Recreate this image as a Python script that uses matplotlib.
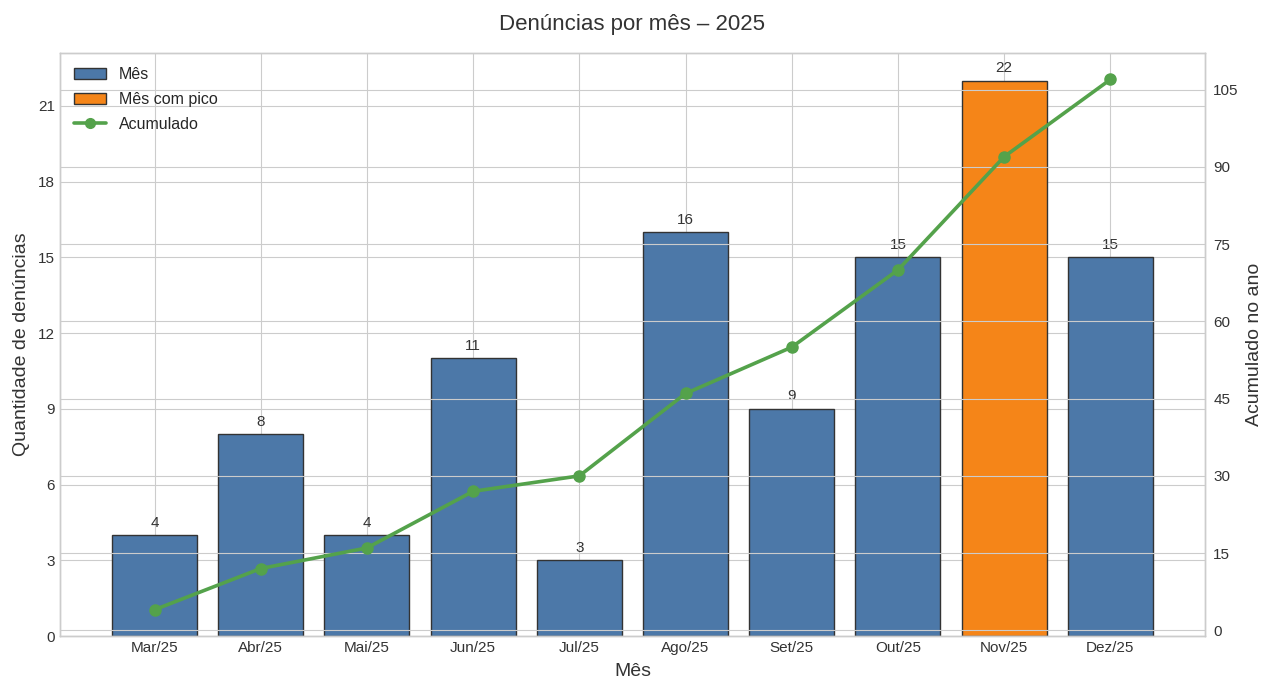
import matplotlib
matplotlib.use("Agg")
import matplotlib.pyplot as plt
import numpy as np
from matplotlib.patches import Patch
from matplotlib.lines import Line2D

meses = ["Mar/25", "Abr/25", "Mai/25", "Jun/25", "Jul/25", "Ago/25", "Set/25", "Out/25", "Nov/25", "Dez/25"]
denuncias = [4, 8, 4, 11, 3, 16, 9, 15, 22, 15]
acumulado = [4, 12, 16, 27, 30, 46, 55, 70, 92, 107]

plt.style.use("seaborn-v0_8-whitegrid")
plt.rcParams["font.family"] = ["Liberation Sans", "DejaVu Sans"]

azul = "#4C78A8"
laranja = "#F58518"
verde = "#54A24B"
txt = "#333333"

fig, ax = plt.subplots(figsize=(12.63, 6.79), dpi=100)
fig.subplots_adjust(left=0.0475, right=0.954, top=0.922, bottom=0.063)

x = np.arange(len(meses))
pico = int(np.argmax(denuncias))
cores = [laranja if i == pico else azul for i in range(len(meses))]
ax.bar(x, denuncias, width=0.8, color=cores, edgecolor=txt, linewidth=1.0)
for xi, v in zip(x, denuncias):
    ax.annotate(str(v), (xi, v), xytext=(0, 4), textcoords="offset points",
                ha="center", va="bottom", fontsize=11, color=txt)

ax.set_ylim(0, max(denuncias) * 1.05)
ax.set_yticks(np.arange(0, 22, 3))
ax.set_xticks(x)
ax.set_xticklabels(meses)
ax.tick_params(axis="both", labelsize=11, colors=txt)
ax.set_xlabel("Mês", fontsize=14, color=txt, labelpad=6)
ax.set_ylabel("Quantidade de denúncias", fontsize=14, color=txt, labelpad=6)
ax.set_title("Denúncias por mês – 2025", fontsize=16, color=txt, pad=16.5)

ax2 = ax.twinx()
ax2.plot(x, acumulado, color=verde, linewidth=2.6, marker="o", markersize=8)
ax2.set_yticks(np.arange(0, 106, 15))
ax2.tick_params(axis="y", labelsize=11, colors=txt, pad=6)
ax2.set_ylabel("Acumulado no ano", fontsize=14, color=txt, labelpad=5.5)

for a in (ax, ax2):
    for s in a.spines.values():
        s.set_visible(True)
        s.set_color("#cccccc")
        s.set_linewidth(1.0)

handles = [Patch(facecolor=azul, edgecolor=txt, label="Mês"),
           Patch(facecolor=laranja, edgecolor=txt, label="Mês com pico"),
           Line2D([0], [0], color=verde, linewidth=2.6, marker="o", markersize=7, label="Acumulado")]
ax.legend(handles=handles, loc="upper left", fontsize=11.5, frameon=False, labelspacing=0.6)

fig.savefig("out.png", dpi=100)
